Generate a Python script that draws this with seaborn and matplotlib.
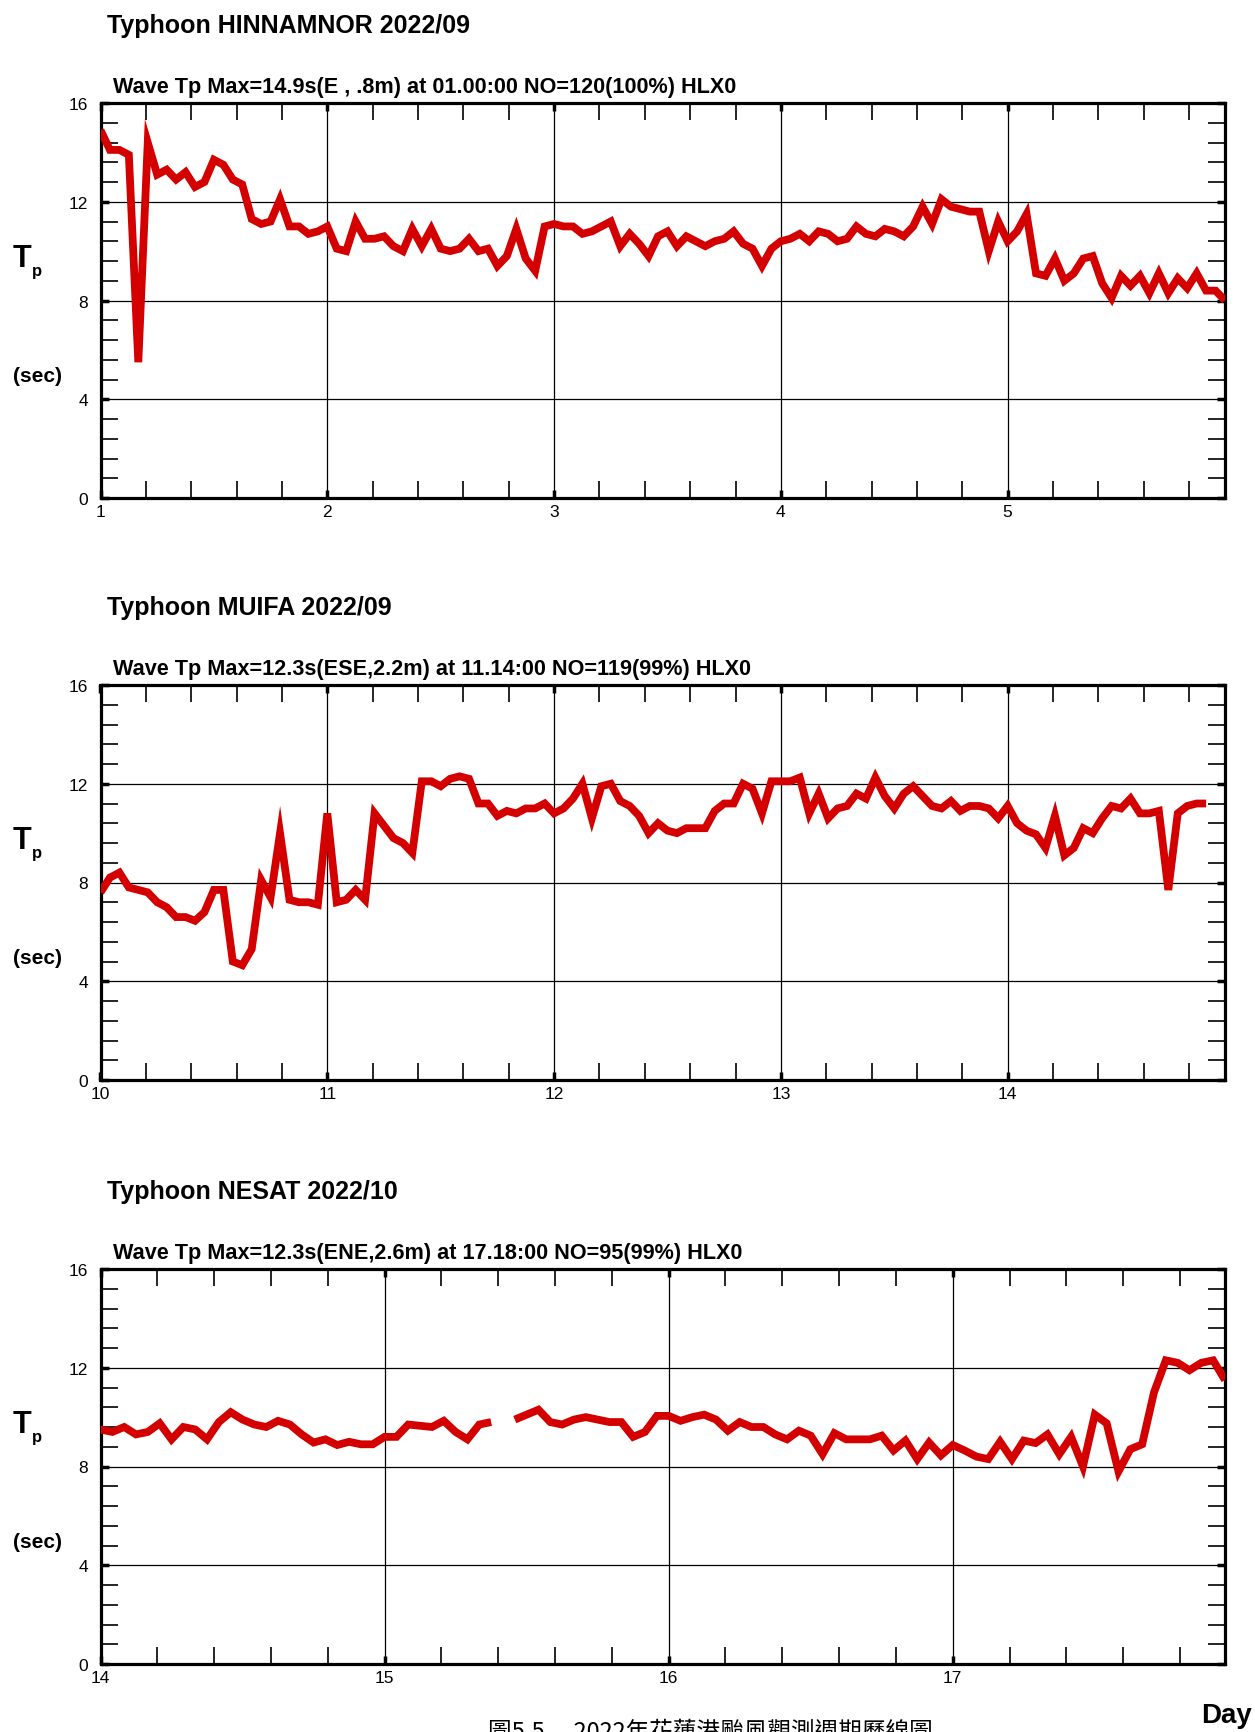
import numpy as np
import pandas as pd
import seaborn as sns
import matplotlib.pyplot as plt
from matplotlib.ticker import MultipleLocator

# figure size in pixels
W, H = 1255, 1733

titles = ['Typhoon HINNAMNOR 2022/09', 'Typhoon MUIFA 2022/09', 'Typhoon NESAT 2022/10']
subtitles = ['Wave Tp Max=14.9s(E , .8m) at 01.00:00 NO=120(100%) HLX0',
             'Wave Tp Max=12.3s(ESE,2.2m) at 11.14:00 NO=119(99%) HLX0',
             'Wave Tp Max=12.3s(ENE,2.6m) at 17.18:00 NO=95(99%) HLX0']
start_days = [1, 10, 14]
n_hours = [120, 120, 96]

# hourly peak period (sec)
tp_hinnamnor = [14.9, 14.1, 14.1, 13.9, 5.5, 14.4, 13.1, 13.3, 12.9, 13.2,
                12.6, 12.8, 13.7, 13.5, 12.9, 12.7, 11.3, 11.1, 11.2, 12.1,
                11.0, 11.0, 10.7, 10.8, 11.0, 10.1, 10.0, 11.2, 10.5, 10.5,
                10.6, 10.2, 10.0, 10.9, 10.2, 10.9, 10.1, 10.0, 10.1, 10.5,
                10.0, 10.1, 9.4, 9.8, 10.9, 9.7, 9.2, 11.0, 11.1, 11.0,
                11.0, 10.7, 10.8, 11.0, 11.2, 10.2, 10.7, 10.3, 9.8, 10.6,
                10.8, 10.2, 10.6, 10.4, 10.2, 10.4, 10.5, 10.8, 10.3, 10.1,
                9.4, 10.1, 10.4, 10.5, 10.7, 10.4, 10.8, 10.7, 10.4, 10.5,
                11.0, 10.7, 10.6, 10.9, 10.8, 10.6, 11.0, 11.8, 11.1, 12.1,
                11.8, 11.7, 11.6, 11.6, 10.0, 11.2, 10.4, 10.8, 11.5, 9.1,
                9.0, 9.7, 8.8, 9.1, 9.7, 9.8, 8.7, 8.1, 9.0, 8.6,
                9.0, 8.3, 9.1, 8.3, 8.9, 8.5, 9.1, 8.4, 8.4, 8.0]
tp_muifa = [7.6, 8.2, 8.4, 7.8, 7.7, 7.6, 7.2, 7.0, 6.6, 6.6,
            6.45, 6.8, 7.7, 7.7, 4.8, 4.65, 5.3, 8.1, 7.4, 10.0,
            7.3, 7.2, 7.2, 7.1, 10.8, 7.2, 7.3, 7.7, 7.3, 10.8,
            10.3, 9.8, 9.6, 9.2, 12.1, 12.1, 11.9, 12.2, 12.3, 12.2,
            11.2, 11.2, 10.7, 10.9, 10.8, 11.0, 11.0, 11.2, 10.8, 11.0,
            11.4, 12.0, 10.6, 11.9, 12.0, 11.3, 11.1, 10.7, 10.0, 10.4,
            10.1, 10.0, 10.2, 10.2, 10.2, 10.9, 11.2, 11.2, 12.0, 11.8,
            10.8, 12.1, 12.1, 12.1, 12.25, 10.8, 11.6, 10.6, 11.0, 11.1,
            11.6, 11.4, 12.25, 11.5, 11.0, 11.6, 11.9, 11.5, 11.1, 11.0,
            11.3, 10.9, 11.1, 11.1, 11.0, 10.6, 11.1, 10.4, 10.1, 9.95,
            9.4, 10.7, 9.1, 9.4, 10.2, 10.0, 10.6, 11.1, 11.0, 11.4,
            10.8, 10.8, 10.9, 7.7, 10.8, 11.1, 11.2, 11.2, np.nan, np.nan]
tp_nesat = [9.5, 9.4, 9.6, 9.3, 9.4, 9.75, 9.1, 9.6, 9.5, 9.1,
            9.8, 10.2, 9.9, 9.7, 9.6, 9.85, 9.7, 9.3, 8.97, 9.1,
            8.87, 9.0, 8.9, 8.9, 9.2, 9.2, 9.7, 9.65, 9.6, 9.85,
            9.4, 9.1, 9.7, 9.8, np.nan, 9.9, 10.1, 10.3, 9.8, 9.7,
            9.9, 10.0, 9.9, 9.8, 9.8, 9.2, 9.4, 10.05, 10.05, 9.85,
            10.0, 10.1, 9.9, 9.45, 9.8, 9.6, 9.6, 9.3, 9.1, 9.45,
            9.25, 8.5, 9.35, 9.1, 9.1, 9.1, 9.25, 8.65, 9.05, 8.3,
            8.97, 8.45, 8.87, 8.65, 8.4, 8.3, 9.0, 8.3, 9.05, 8.95,
            9.3, 8.5, 9.2, 8.0, 10.1, 9.75, 7.8, 8.7, 8.9, 11.0,
            12.3, 12.2, 11.9, 12.2, 12.3, 11.5]
series = [tp_hinnamnor, tp_muifa, tp_nesat]

# pixel layout of the three panels
ax_left, ax_right = 100.5, 1225
ax_tops = [104, 686, 1270]
ax_h = 395

sns.set_style('ticks')
plt.rcParams['font.family'] = ['Liberation Sans', 'DejaVu Sans']
plt.rcParams['text.color'] = 'black'

fig = plt.figure(figsize=(W / 100, H / 100), dpi=100)


def fx(x):
    return x / W


def fy(y):
    return 1 - y / H


for i in range(3):
    top = ax_tops[i]
    ax = fig.add_axes([fx(ax_left), fy(top + ax_h), (ax_right - ax_left) / W, ax_h / H])
    vals = np.array(series[i], dtype=float)
    hrs = np.arange(len(vals))
    df = pd.DataFrame({'day': start_days[i] + hrs / 24, 'tp': vals,
                       'seg': np.cumsum(np.isnan(vals))}).dropna()
    sns.lineplot(data=df, x='day', y='tp', units='seg', estimator=None,
                 color='#d40000', lw=5.6, ax=ax, legend=False,
                 solid_joinstyle='miter', solid_capstyle='butt', zorder=3)

    ax.set_xlim(start_days[i], start_days[i] + (n_hours[i] - 1) / 24)
    ax.set_ylim(0, 16)
    ax.xaxis.set_major_locator(MultipleLocator(1))
    ax.xaxis.set_minor_locator(MultipleLocator(0.2))
    ax.yaxis.set_major_locator(MultipleLocator(4))
    ax.yaxis.set_minor_locator(MultipleLocator(0.8))
    ax.grid(which='major', color='black', lw=0.9)
    ax.set_axisbelow(True)
    ax.tick_params(which='both', direction='in', top=True, right=True,
                   labelsize=12.5, colors='black')
    ax.tick_params(which='minor', length=12, width=1.2)
    ax.tick_params(which='major', length=6, width=2.5)
    ax.tick_params(axis='y', pad=9)
    ax.tick_params(axis='x', pad=4)
    for s in ax.spines.values():
        s.set_linewidth(2.3)
        s.set_color('black')
    ax.set_xlabel('')
    ax.set_ylabel('')

    off = top - 104
    fig.text(fx(107), fy(26 + off), titles[i], fontsize=18, fontweight='bold',
             va='center', ha='left')
    fig.text(fx(113), fy(87 + off), subtitles[i], fontsize=15.6, fontweight='bold',
             va='center', ha='left')
    fig.text(fx(13), fy(267 + off), 'T', fontsize=22, fontweight='bold',
             va='baseline', ha='left')
    fig.text(fx(32), fy(276 + off), 'p', fontsize=12, fontweight='bold',
             va='baseline', ha='left')
    fig.text(fx(13), fy(377 + off), '(sec)', fontsize=15, fontweight='bold',
             va='center', ha='left')

fig.text(fx(1252), fy(1716), 'Day', fontsize=20, fontweight='bold',
         va='center', ha='right')
# caption sits at the bottom edge and is cut off there, as in the source page
fig.text(fx(488), fy(1721), '圖5.5　 2022年花蓮港颱風觀測週期歷線圖', fontsize=17,
         va='top', ha='left', family=['Noto Sans CJK TC', 'DejaVu Sans'])

fig.savefig('out.png', dpi=100)
